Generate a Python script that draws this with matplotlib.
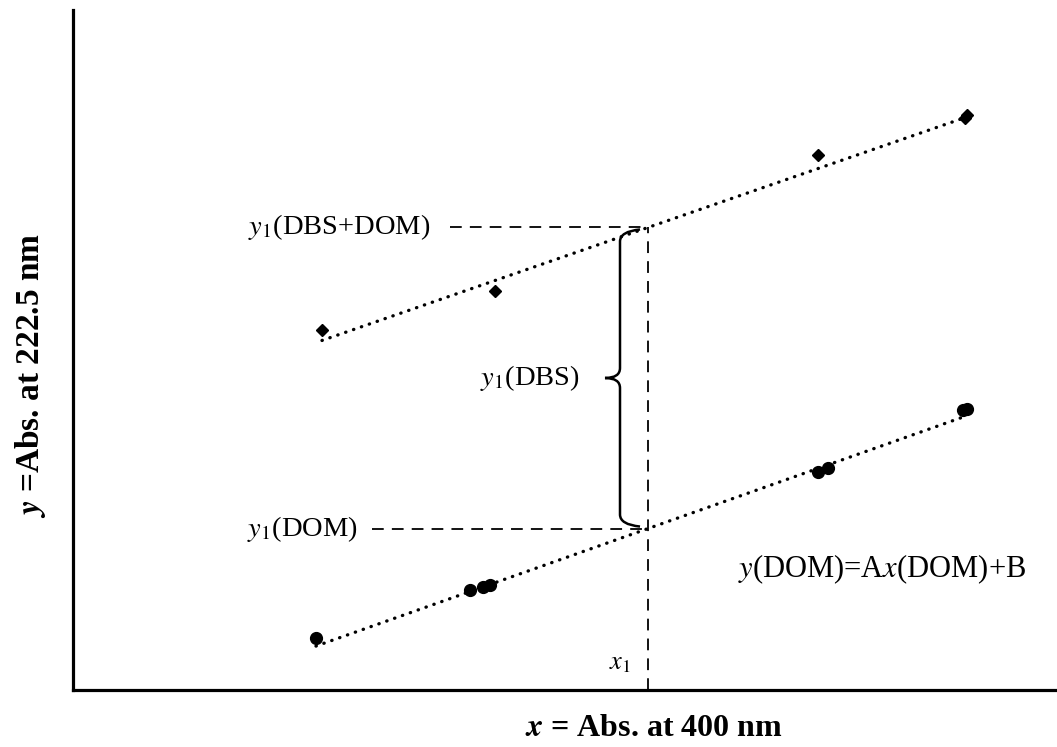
import matplotlib.pyplot as plt
import numpy as np
from matplotlib.path import Path
from matplotlib.patches import PathPatch

plt.rcParams['font.family'] = ['Liberation Serif', 'DejaVu Serif']
plt.rcParams['mathtext.fontset'] = 'stix'

# absorbance readings (arbitrary units)
x_dbs_dom = [0.249, 0.422, 0.745, 0.892, 0.894]
y_dbs_dom = [0.360, 0.399, 0.535, 0.572, 0.575]

x_dom = [0.243, 0.397, 0.410, 0.417, 0.745, 0.755, 0.890, 0.894]
y_dom = [0.052, 0.100, 0.103, 0.105, 0.218, 0.222, 0.280, 0.281]

x1 = 0.575

fig = plt.figure(figsize=(10.57, 7.47), dpi=100)
ax = fig.add_axes([73 / 1057, 57 / 747, 984 / 1057, 680 / 747])
ax.set_xlim(0, 0.984)
ax.set_ylim(0, 0.680)
for s in ['top', 'right']:
    ax.spines[s].set_visible(False)
for s in ['left', 'bottom']:
    ax.spines[s].set_linewidth(2.3)
ax.set_xticks([])
ax.set_yticks([])

dots = dict(color='black', lw=2.4, linestyle=(0, (0.1, 2.4)), dash_capstyle='round')

# upper series + fit
ax.plot(x_dbs_dom, y_dbs_dom, 'D', color='black', markersize=6.5)
a_u, b_u = np.polyfit(x_dbs_dom, y_dbs_dom, 1)
xu = np.array([min(x_dbs_dom), max(x_dbs_dom)])
ax.plot(xu, a_u * xu + b_u - 0.003, **dots)

# lower series + fit
ax.plot(x_dom, y_dom, 'o', color='black', markersize=8.5)
a_l, b_l = np.polyfit(x_dom, y_dom, 1)
xl = np.array([min(x_dom), max(x_dom)])
ax.plot(xl, a_l * xl + b_l - 0.002, **dots)

y_up = a_u * x1 + b_u - 0.003
y_lo = a_l * x1 + b_l - 0.002

dash = dict(color='black', lw=1.3, linestyle=(0, (6.5, 4.5)))
ax.plot([x1, x1], [0, y_up], **dash)
ax.plot([0.377, x1], [y_up, y_up], **dash)
ax.plot([0.299, x1], [y_lo, y_lo], **dash)

# curly brace
bx = x1 - 0.028
yt = y_up - 0.004
yb = y_lo + 0.004
ym = (yt + yb) / 2
r = 0.010
verts = [(bx + 0.020, yt + 0.002), (bx, yt), (bx, yt - r),
         (bx, ym + r), (bx, ym), (bx - 0.015, ym),
         (bx, ym), (bx, ym - r),
         (bx, yb + r), (bx, yb), (bx + 0.020, yb - 0.002)]
codes = [Path.MOVETO, Path.CURVE3, Path.CURVE3,
         Path.LINETO, Path.CURVE3, Path.CURVE3,
         Path.CURVE3, Path.CURVE3,
         Path.LINETO, Path.CURVE3, Path.CURVE3]
ax.add_patch(PathPatch(Path(verts, codes), fill=False, lw=1.8, color='black'))

fs = 20.5
ax.text(0.357, y_up, '$y_1$(DBS+DOM)', ha='right', va='center', fontsize=fs)
ax.text(0.507, ym, '$y_1$(DBS)', ha='right', va='center', fontsize=fs)
ax.text(0.285, y_lo, '$y_1$(DOM)', ha='right', va='center', fontsize=fs)
ax.text(0.547, 0.026, '$x_1$', ha='center', va='center', fontsize=19)
ax.text(0.665, 0.121, '$y$(DOM)=A$x$(DOM)+B', ha='left', va='center', fontsize=22)

ax.set_xlabel('$\\boldsymbol{x}$ = Abs. at 400 nm', fontsize=23, fontweight='bold', va='center')
ax.xaxis.set_label_coords(0.590, -0.057)
ax.set_ylabel('$\\boldsymbol{y}$ =Abs. at 222.5 nm', fontsize=24, fontweight='bold', va='center')
ax.yaxis.set_label_coords(-0.043, 0.463)

plt.savefig('out.png')
